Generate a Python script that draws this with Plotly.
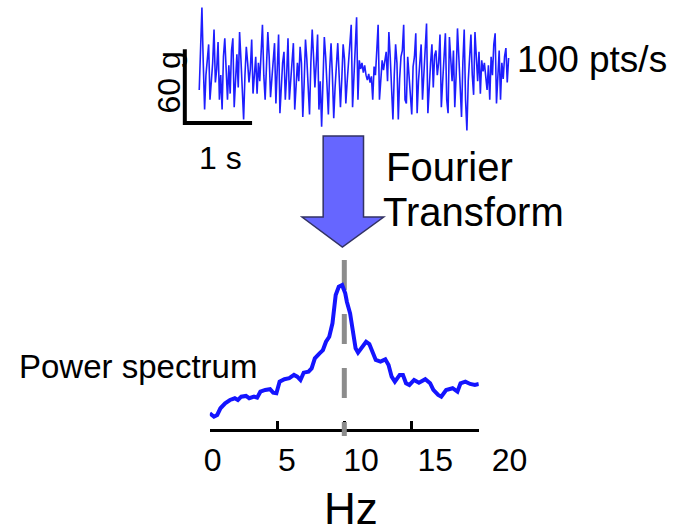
import plotly.graph_objects as go

# ---------------- data ----------------
# acceleration trace (g), sampled every 0.02 s
SAMPLE_INTERVAL_S = 0.02
SIGNAL_G = [
    -17, 10, 50, 5, -33, -5, 12, 20, -25, -10, 5, 32, -11, 0, 22, -25, -5, -33, 10, 25,
    -8, -25, 3, -20, 15, 25, -31, -5, 12, -15, 30, 8, -20, -41, -5, 18, 5, -11, 0, 24,
    -20, -8, 10, -20, 5, -10, 15, 36, -5, -25, 2, 30, 10, -23, -8, 12, 21, -28, -5,
    28, -36, -10, 5, 14, -25, -5, 25, -25, -10, 8, 21, -33, -15, 5, -10, 18, 5, -39, -12,
    24, 8, -20, -37, 5, 32, 10, -15, 5, 28, -33, -10, -47, -5, 26, 10, -15, -37, 0, 21,
    -5, -40, -15, 10, 21, -5, -31, -8, 20, 8, -28, -10, 5, 26, 36, -31, -10, 15,
    42, -25, 7, 0, 5, -3, 3, -5, -9, -4, -11, -6, -25, 2, -5, 15, 36, -25, -5, 7,
    -1, 8, 14, -10, 30, 10, -20, -41, -5, 20, 5, -41, -8, 10, 15, 36, -25, -28, 10, -5,
    -15, -37, 2, 10, 29, -36, -10, 8, 20, -25, -5, 15, 37, -36, -12, 5, 20,
    -15, 11, 15, -5, 5, 28, -31, -10, 10, 29, -25, -36, 26, 5, -10, 15, -31, -5, 33, 10,
    -20, -39, 5, 32, -25, -50, -10, 15, 28, -5, -21, 30, 5, -10, 14, -20, 7, -2, 5, -5,
    -17, 3, -25, 10, -5, 20, 29, -28, -10, 15, -25, 5, -8, 10, 17, -11, 9,
]
SCALE_TIME_S = 1
SCALE_ACC_G = 60

# power spectrum
FREQ_HZ = [
    0.0, 0.31, 0.55, 0.79, 1.14, 1.5, 1.86, 2.09, 2.34, 2.69, 2.93, 3.29, 3.52, 3.76,
    4.12, 4.48, 4.71, 4.95, 5.19, 5.55, 5.91, 6.26, 6.5, 6.74, 6.98, 7.34, 7.57, 7.81,
    8.16, 8.41, 8.64, 8.88, 9.12, 9.24, 9.36, 9.59, 9.84, 10.07, 10.19, 10.43, 10.55,
    10.66, 10.84, 11.02, 11.26, 11.62, 11.86, 12.09, 12.34, 12.69, 13.05, 13.29, 13.52,
    13.76, 14.12, 14.36, 14.59, 14.84, 15.19, 15.55, 16.02, 16.38, 16.62, 16.98, 17.21,
    17.57, 18.05, 18.41, 18.64, 19.0, 19.36, 19.71, 20.0,
]
POWER = [
    11.7, 9.3, 10.5, 15.2, 18.7, 21.0, 22.2, 21.0, 23.3, 23.8, 22.2, 23.3, 22.6, 26.8,
    28.0, 28.5, 26.1, 25.7, 33.8, 35.5, 36.2, 38.5, 37.3, 35.0, 40.1, 40.8, 43.1, 50.1,
    53.6, 55.9, 61.7, 65.2, 74.6, 88.6, 94.4, 100.2, 101.4, 95.6, 89.7, 81.6, 73.4,
    65.2, 57.1, 54.1, 57.1, 61.7, 60.1, 54.8, 49.0, 47.8, 49.4, 45.5, 37.3,
    33.8, 38.5, 38.5, 32.7, 31.5, 35.0, 33.1, 35.5, 32.7, 28.0, 24.5, 23.3,
    28.0, 29.2, 26.8, 32.7, 33.8, 32.2, 31.5, 32.2,
]
PEAK_HZ = 10
HZ_TICKS = [0, 5, 10, 15, 20]
HZ_TICK_TEXT = ["0", "5", "10", "15", "20"]

# ---------------- layout helpers (pixel geometry) ----------------
W, H = 688, 532
FONT = "Liberation Sans, Arial, sans-serif"
CLEAR = "rgba(0,0,0,0)"


def px(x):
    return x / W


def py(y):
    return 1 - y / H


# top panel mapping: t=0 at x=198 px, 70 px per s; 0 g at y=69 px, 1.23 px per g
T0_PX, PX_PER_S = 198, 70.0
G0_PX, PX_PER_G = 69, 1.23
x1_range = [(0 - T0_PX) / PX_PER_S, (W - T0_PX) / PX_PER_S]
y1_range = [(G0_PX - H) / PX_PER_G, G0_PX / PX_PER_G]

# spectrum mapping
F0_PX, F20_PX = 209, 489
P0_PX, PX_PER_P = 430, 1.43
Y2_BOT_PX, Y2_TOP_PX = 440, 250
y2_range = [(P0_PX - Y2_BOT_PX) / PX_PER_P, (P0_PX - Y2_TOP_PX) / PX_PER_P]

t = [i * SAMPLE_INTERVAL_S for i in range(len(SIGNAL_G))]

fig = go.Figure()

# raw signal
fig.add_trace(go.Scatter(x=t, y=SIGNAL_G, mode="lines",
                         line=dict(color="rgb(30,30,255)", width=1.6),
                         hoverinfo="skip", showlegend=False))

# scale bars
t_corner = (183 - T0_PX) / PX_PER_S
g_corner = (G0_PX - 123) / PX_PER_G
fig.add_trace(go.Scatter(x=[t_corner, t_corner, t_corner + SCALE_TIME_S],
                         y=[g_corner + SCALE_ACC_G, g_corner, g_corner],
                         mode="lines", line=dict(color="black", width=4),
                         hoverinfo="skip", showlegend=False))

# dashed guide at peak
fig.add_trace(go.Scatter(x=[PEAK_HZ, PEAK_HZ],
                         y=[(P0_PX - 260) / PX_PER_P, (P0_PX - 436) / PX_PER_P],
                         xaxis="x2", yaxis="y2", mode="lines",
                         line=dict(color="rgb(140,140,140)", width=5, dash="30px,24px"),
                         hoverinfo="skip", showlegend=False))

# power spectrum
fig.add_trace(go.Scatter(x=FREQ_HZ, y=POWER, xaxis="x2", yaxis="y2", mode="lines",
                         line=dict(color="rgb(20,20,255)", width=4),
                         hoverinfo="skip", showlegend=False))

# invisible trace to carry tick-label axis
fig.add_trace(go.Scatter(x=HZ_TICKS, y=[0] * len(HZ_TICKS), xaxis="x3", yaxis="y2",
                         mode="markers", marker=dict(opacity=0),
                         hoverinfo="skip", showlegend=False))

# arrow
arrow = (f"M {px(327)} {py(136)} L {px(369)} {py(136)} L {px(369)} {py(217)} "
         f"L {px(390)} {py(217)} L {px(347)} {py(247)} L {px(305)} {py(217)} "
         f"L {px(327)} {py(217)} Z")
fig.add_shape(type="path", path=arrow, xref="paper", yref="paper",
              fillcolor="rgb(102,102,255)", line=dict(color="rgb(50,50,100)", width=1.5))


def label(text, x, y, size, xanchor="left", angle=0):
    fig.add_annotation(text=text, x=px(x), y=py(y), xref="paper", yref="paper",
                       xanchor=xanchor, yanchor="middle", showarrow=False,
                       textangle=angle, font=dict(family=FONT, size=size, color="black"))


label("100 pts/s", 527, 60, 37)
label("Fourier", 390, 167, 40)
label("Transform", 387, 212, 40)
label("Power spectrum", 8, 366, 33)
label("1 s", 220, 158, 32, xanchor="center")
label("60 g", 167, 82, 32, xanchor="center", angle=-90)
label("Hz", 356, 508, 44, xanchor="center")

fig.update_layout(
    width=W, height=H, margin=dict(l=0, r=0, t=0, b=0),
    paper_bgcolor="white", plot_bgcolor=CLEAR, showlegend=False,
    xaxis=dict(domain=[0, 1], range=x1_range, visible=False, fixedrange=True),
    yaxis=dict(domain=[0, 1], range=y1_range, visible=False, fixedrange=True),
    xaxis2=dict(domain=[px(F0_PX), px(F20_PX)], range=[0, 20], anchor="free",
                position=py(P0_PX), showline=True, linecolor="black", linewidth=3,
                ticks="inside", ticklen=8, tickwidth=3, tickcolor="black",
                tickvals=HZ_TICKS, showticklabels=False, showgrid=False,
                zeroline=False, layer="below traces", fixedrange=True),
    yaxis2=dict(domain=[py(Y2_BOT_PX), py(Y2_TOP_PX)], range=y2_range, anchor="x2",
                visible=False, fixedrange=True),
    xaxis3=dict(domain=[px(212), px(521)], range=[0, 20], anchor="free",
                position=py(438), showline=False, ticks="", tickvals=HZ_TICKS,
                ticktext=HZ_TICK_TEXT, showgrid=False, zeroline=False,
                tickfont=dict(family=FONT, size=32, color="black"), fixedrange=True),
)

fig.write_html(
    "out.html",
    config={"displayModeBar": False, "staticPlot": True},
    post_script="document.body.style.margin='0';document.body.style.overflow='hidden';",
)
